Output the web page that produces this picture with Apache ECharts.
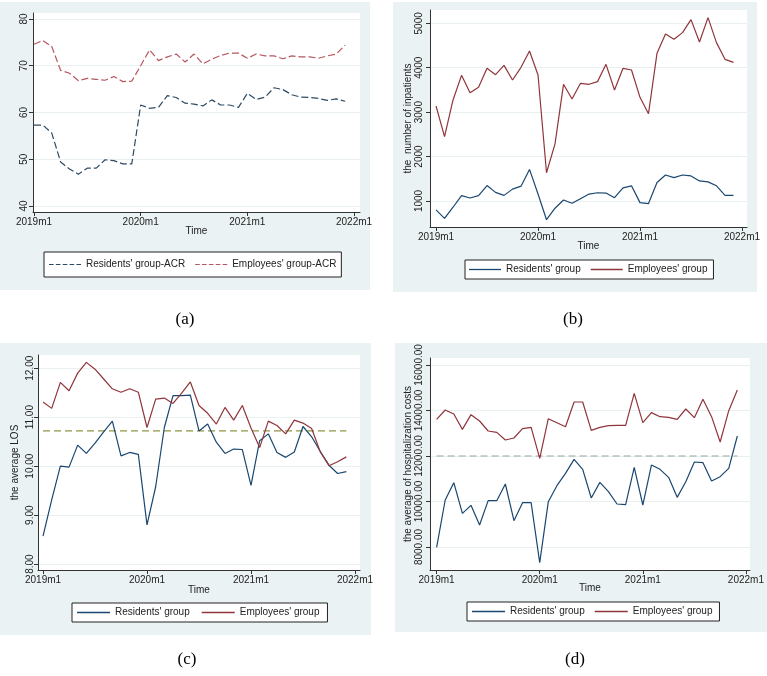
<!DOCTYPE html>
<html><head><meta charset="utf-8">
<script src="https://cdn.jsdelivr.net/npm/echarts@6/dist/echarts.min.js"></script>
<style>html,body{margin:0;padding:0;background:#fff}#c{width:767px;height:676px}</style>
</head><body><div id="c"></div><script>
const months = ["2019m1","2019m2","2019m3","2019m4","2019m5","2019m6","2019m7","2019m8","2019m9","2019m10","2019m11","2019m12",
  "2020m1","2020m2","2020m3","2020m4","2020m5","2020m6","2020m7","2020m8","2020m9","2020m10","2020m11","2020m12",
  "2021m1","2021m2","2021m3","2021m4","2021m5","2021m6","2021m7","2021m8","2021m9","2021m10","2021m11","2021m12"];
const xTickLabels = ["2019m1","2020m1","2021m1","2022m1"];
const xTickValues = [0,12,24,36];

const acrResidents = [57.3,57.3,55.6,49.4,47.9,46.8,48.1,48.1,49.9,49.7,49.0,49.0,
  61.6,60.9,61.1,63.6,63.2,62.0,61.8,61.4,62.7,61.6,61.6,61.1,
  64.1,62.8,63.3,65.3,64.9,63.8,63.3,63.2,63.0,62.6,62.9,62.4];
const acrEmployees = [74.6,75.4,74.1,69.0,68.4,66.8,67.3,67.1,66.9,67.7,66.6,66.7,
  70.0,73.4,71.1,71.9,72.5,70.8,72.5,70.4,71.4,72.2,72.7,72.7,
  71.6,72.5,72.1,72.1,71.5,72.1,71.9,71.9,71.6,72.1,72.5,74.4];

const inpResidents = [800,607,859,1119,1067,1119,1348,1193,1126,1267,1333,1711,
  1156,578,837,1022,948,1052,1156,1185,1178,1074,1296,1341,
  963,941,1415,1585,1526,1585,1563,1452,1430,1341,1126,1126];
const inpEmployees = [3139,2448,3274,3829,3439,3559,3987,3844,4054,3724,4009,4377,
  3837,1635,2285,3627,3296,3649,3627,3687,4077,3499,3987,3949,
  3334,2966,4325,4760,4640,4790,5083,4580,5128,4565,4189,4122];

const losResidents = [8.57,9.31,10.00,9.98,10.43,10.26,10.47,10.70,10.92,10.21,10.28,10.24,
  8.80,9.58,10.79,11.44,11.44,11.45,10.72,10.86,10.49,10.26,10.35,10.34,
  9.61,10.52,10.66,10.28,10.18,10.29,10.81,10.60,10.30,10.02,9.85,9.89];
const losEmployees = [11.31,11.18,11.71,11.54,11.90,12.12,11.98,11.78,11.58,11.51,11.58,11.51,
  10.79,11.37,11.39,11.28,11.49,11.72,11.24,11.08,10.86,11.20,10.94,11.24,
  10.78,10.38,10.92,10.83,10.66,10.94,10.88,10.77,10.29,10.01,10.09,10.19];
const losMean = 10.72;

const costResidents = [7985,10066,10828,9480,9832,8967,10037,10037,10769,9158,9949,9949,
  7311,9993,10696,11238,11853,11414,10154,10842,10432,9890,9861,11502,
  9846,11604,11414,11062,10183,10872,11736,11707,10901,11091,11458,12879];
const costEmployees = [13612,14022,13846,13172,13817,13538,13099,13040,12703,12791,13201,13260,
  11897,13641,13465,13289,14374,14374,13128,13260,13333,13348,13348,14755,
  13465,13905,13729,13700,13612,14066,13685,14491,13729,12615,13993,14901];
const costMean = 12000;

const yTicksA = [40,50,60,70,80];
const yTicksB = [1000,2000,3000,4000,5000];
const yTicksC = [8,9,10,11,12];
const yTicksD = [8000,10000,12000,14000,16000];
const panelLabels = ["(a)","(b)","(c)","(d)"];
const seriesNames = ["Residents' group","Employees' group"];
const seriesNamesA = ["Residents' group-ACR","Employees' group-ACR"];

const NAVY = '#1a476f', MAROON = '#90353b';
const FONT = '"Liberation Sans", Arial, sans-serif';
const FS = 10;
const pts = arr => arr.map((v, i) => [i, v]);

const panels = [
  {grid:{left:33,top:13,width:327,height:199}, x:[-0.11,36.67], y:[38.72,81.28], ticks:yTicksA, fmt:v=>String(v), name:'', lm:4, ng:18, xg:14},
  {grid:{left:430,top:10,width:317,height:217}, x:[-0.71,36.59], y:[414,5300], ticks:yTicksB, fmt:v=>String(v), name:'the  number of inpatients', lm:6, ng:17, xg:14},
  {grid:{left:38,top:355,width:322,height:215}, x:[-0.58,36.58], y:[7.88,12.27], ticks:yTicksC, fmt:v=>v.toFixed(2), name:'the average LOS', lm:3, ng:18, xg:15},
  {grid:{left:430,top:358,width:323,height:212}, x:[-0.77,36.46], y:[6989,16308], ticks:yTicksD, fmt:v=>v.toFixed(2), name:'the average of hospitalization costs', lm:6, ng:17, xg:13}
];

const grids = panels.map(p => Object.assign({show:true, backgroundColor:'#fff', borderWidth:0}, p.grid));
const xAxes = panels.map((p, k) => ({
  type:'value', gridIndex:k, min:p.x[0], max:p.x[1],
  name:'Time', nameLocation:'middle', nameGap:p.xg, nameMoveOverlap:false,
  nameTextStyle:{fontFamily:FONT, fontSize:FS, color:'#222'},
  axisLine:{show:true, onZero:false, lineStyle:{color:'#333', width:1}},
  axisTick:{show:true, length:4, customValues:xTickValues, lineStyle:{color:'#333'}},
  axisLabel:{customValues:xTickValues, formatter:v => xTickLabels[xTickValues.indexOf(v)] || '', margin:5, fontFamily:FONT, fontSize:FS, color:'#222', showMinLabel:true, showMaxLabel:true, hideOverlap:false},
  splitLine:{show:false}
}));
const yAxes = panels.map((p, k) => ({
  type:'value', gridIndex:k, min:p.y[0], max:p.y[1],
  name:p.name, nameLocation:'middle', nameGap:p.ng, nameRotate:90, nameMoveOverlap:false,
  nameTextStyle:{fontFamily:FONT, fontSize:FS, color:'#222'},
  axisLine:{show:true, onZero:false, lineStyle:{color:'#333', width:1}},
  axisTick:{show:true, length:4, customValues:p.ticks, lineStyle:{color:'#333'}},
  axisLabel:{customValues:p.ticks, formatter:p.fmt, rotate:90, margin:p.lm, fontFamily:FONT, fontSize:FS, color:'#222', showMinLabel:true, showMaxLabel:true, hideOverlap:false},
  splitLine:{show:true, lineStyle:{color:'#e9f0f1', width:1}}
}));

function line(name, data, k, color, dashed) {
  return {type:'line', name, data:pts(data), xAxisIndex:k, yAxisIndex:k, symbol:'none', silent:true,
    lineStyle:{color, width:1.2, type: dashed ? [7,3] : 'solid'}, itemStyle:{color}};
}
function refLine(value, n, k, color) {
  return {type:'line', name:'', data:[[0,value],[n-1,value]], xAxisIndex:k, yAxisIndex:k, symbol:'none', silent:true,
    lineStyle:{color, width:1.2, type:[7,4]}, z:1};
}

const series = [
  line(seriesNamesA[0], acrResidents, 0, '#2d4a63', true),
  line(seriesNamesA[1], acrEmployees, 0, '#b5575f', true),
  line(seriesNames[0], inpResidents, 1, NAVY, false),
  line(seriesNames[1], inpEmployees, 1, MAROON, false),
  refLine(losMean, losResidents.length, 2, '#8f9443'),
  line(seriesNames[0], losResidents, 2, NAVY, false),
  line(seriesNames[1], losEmployees, 2, MAROON, false),
  refLine(costMean, costResidents.length, 3, '#92a89e'),
  line(seriesNames[0], costResidents, 3, NAVY, false),
  line(seriesNames[1], costEmployees, 3, MAROON, false)
];

const DASH_ICON = 'path://M0,0h5v1h-5zM7.5,0h5v1h-5zM15,0h5v1h-5zM22.5,0h5v1h-5zM30,0h5v1h-5z';
function legend(names, left, top, pad, gap, icon, iw) {
  return {data:names.map(n => ({name:n, icon})), left, top, orient:'horizontal', itemWidth:iw, itemHeight:1.3, itemGap:gap,
    padding:pad, borderColor:'#222', borderWidth:1, backgroundColor:'#fff', selectedMode:false, borderRadius:0,
    textStyle:{fontFamily:FONT, fontSize:FS, color:'#222', lineHeight:13}};
}

const bgs = [[0,2,370,288],[393,2,364,290],[0,343,371,292],[395,343,372,289]];
const labelPos = [[185,320],[573,320],[187,660],[575,660]];
const graphic = bgs.map(b => ({type:'rect', shape:{x:b[0], y:b[1], width:b[2], height:b[3]}, style:{fill:'#eaf2f3'}, z:-100, silent:true}))
  .concat(panelLabels.map((t, i) => ({type:'text', x:labelPos[i][0], y:labelPos[i][1],
    style:{text:t, font:'17px "Liberation Serif", "Times New Roman", serif', fill:'#000', textAlign:'center', textVerticalAlign:'middle'}, silent:true})));

const chart = echarts.init(document.getElementById('c'), null, {renderer:'canvas'});
chart.setOption({
  animation:false,
  backgroundColor:'#fff',
  grid:grids, xAxis:xAxes, yAxis:yAxes, series,
  legend:[
    legend(seriesNamesA, 44, 252, [6,5,6,5], 10, DASH_ICON, 32),
    legend(seriesNames, 465, 260, [3,6,3,4], 10, 'rect', 32),
    legend(seriesNames, 72, 603, [3,8,3,5], 12, 'rect', 33),
    legend(seriesNames, 467, 602, [3,7,3,5], 10, 'rect', 33)
  ],
  graphic
});
</script></body></html>
